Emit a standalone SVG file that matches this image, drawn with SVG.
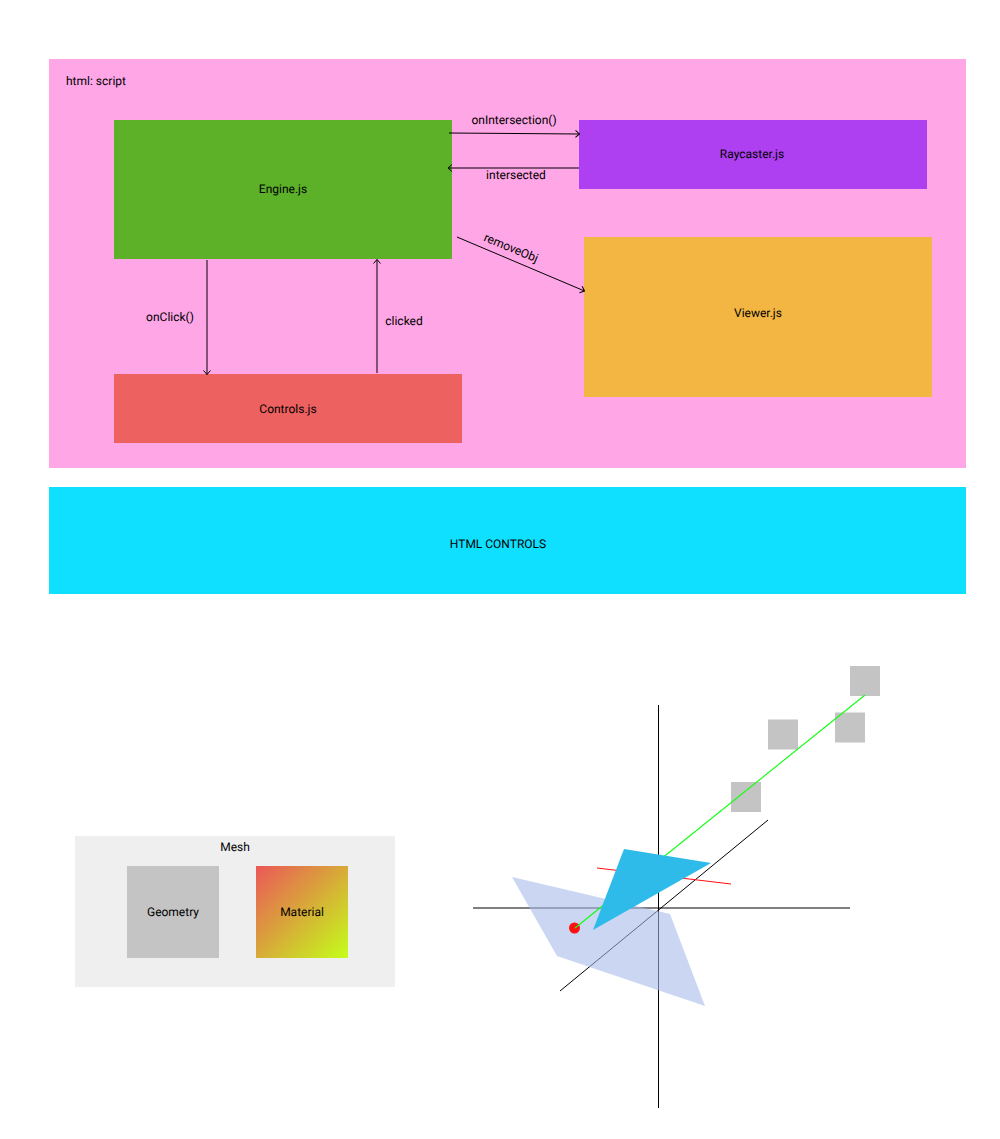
<svg xmlns="http://www.w3.org/2000/svg" width="1000" height="1139" viewBox="0 0 1000 1139">
<style>
text{font-family:Roboto,"Liberation Sans",sans-serif;font-size:12px;fill:#000;text-anchor:middle;text-rendering:geometricPrecision}
.c{fill:none;stroke:#000;stroke-width:1;marker-end:url(#a)}
.g{fill:#c4c4c4}
.k{fill:none;stroke:#000;stroke-width:1}
</style>
<defs>
<marker id="a" markerUnits="userSpaceOnUse" markerWidth="10" markerHeight="10" refX="6" refY="5" orient="auto"><path d="M2 1.500L6 5L2 8.500" fill="none" stroke="#000" stroke-width="1"/></marker>
<linearGradient id="m" x1="0" y1="0" x2="1" y2="1"><stop offset="0" stop-color="#eb5757"/><stop offset="1" stop-color="#c4ff1a"/></linearGradient>
</defs>
<rect width="1000" height="1139" fill="#fff"/>
<g id="script"><rect x="49" y="59" width="917" height="409" fill="#ffa6e7"/><text x="96" y="85">html: script</text></g>
<g id="engine"><rect x="114" y="120" width="338" height="139" fill="#5db128"/><text x="283" y="193">Engine.js</text></g>
<g id="raycaster"><rect x="579" y="120" width="348" height="69" fill="#ae40f2"/><text x="752" y="158">Raycaster.js</text></g>
<g id="viewer"><rect x="584" y="237" width="348" height="160" fill="#f4b642"/><text x="758" y="317">Viewer.js</text></g>
<g id="controls"><rect x="114" y="374" width="348" height="69" fill="#ee6161"/><text x="288" y="413">Controls.js</text></g>
<g id="html-controls"><rect x="49" y="487" width="917" height="107" fill="#0fe0ff"/><text x="498" y="548">HTML CONTROLS</text></g>
<g id="connectors">
<path class="c" d="M449 133L579.500 134"/>
<path class="c" d="M579 168L448 168"/>
<path class="c" d="M457 237L584.500 291"/>
<path class="c" d="M207 260V374.500"/>
<path class="c" d="M377 373V259.500"/>
<text x="514" y="124">onIntersection()</text>
<text x="516" y="179">intersected</text>
<text x="0" y="0" transform="translate(509.500 251.500) rotate(22.500)">removeObj</text>
<text x="170" y="321">onClick()</text>
<text x="404" y="325">clicked</text>
</g>
<g id="mesh"><rect x="75" y="836" width="320" height="151" fill="#efefef"/><text x="235" y="851">Mesh</text></g>
<g id="geometry"><rect class="g" x="127" y="866" width="92" height="92"/><text x="173" y="916">Geometry</text></g>
<g id="material"><rect x="256" y="866" width="92" height="92" fill="url(#m)"/><text x="302" y="916">Material</text></g>
<g id="scene">
<rect class="g" x="850" y="666" width="30" height="30"/>
<rect class="g" x="835" y="712.500" width="30" height="30"/>
<rect class="g" x="768" y="719.500" width="30" height="30"/>
<rect class="g" x="731" y="782" width="30" height="30"/>
<path class="k" d="M658.500 705V1108"/>
<path class="k" d="M473 908H850"/>
<path class="k" d="M560 991L768 820"/>
<path d="M512 877L670 914L705 1006L557 956Z" fill="#a3b8e8" fill-opacity=".58"/>
<path d="M597 868L731 884" fill="none" stroke="#f11" stroke-width="1.200"/>
<circle cx="574.500" cy="928" r="5.500" fill="#f11"/>
<path d="M575 928L865 695" fill="none" stroke="#1f1" stroke-width="1.150"/>
<path d="M624 849L711 863L593 930Z" fill="#2ebbea"/>
</g>
</svg>
